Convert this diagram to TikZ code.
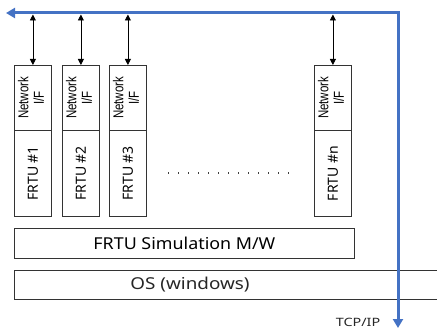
\documentclass[tikz,border=0pt]{standalone}
\usepackage{fontspec}
\setmainfont{Noto Sans}
\newfontfamily\netfont{Liberation Sans}
\usetikzlibrary{arrows.meta}
\definecolor{busblue}{HTML}{4472C4}
\definecolor{boxline}{HTML}{333333}
\newcommand\nettext{\rotatebox{90}{\scalebox{1}[1.25]{\netfont\fontsize{11.5}{13}\selectfont\begin{tabular}{@{}c@{}}Network\\[-0.5pt]I/F\end{tabular}}}}
\newcommand\frtutext[1]{\rotatebox{90}{\fontsize{14}{16}\selectfont FRTU \##1}}
\begin{document}
\begin{tikzpicture}[x=1pt,y=-1pt,
  box/.style={draw=boxline, line width=0.8pt, inner sep=0pt, anchor=north west},
  netbox/.style={box, minimum width=37pt, minimum height=65pt},
  frtubox/.style={box, minimum width=37pt, minimum height=86pt},
  layerbox/.style={box, minimum height=30pt},
  link/.style={{Triangle[length=6pt,width=6pt]}-{Triangle[length=6pt,width=6pt]}, line width=0.8pt},
  bus/.style={{Triangle[length=9pt,width=10pt]}-{Triangle[length=9pt,width=10pt]}, draw=busblue, line width=3pt, line join=miter},
  label/.style={inner sep=0pt, text=black!85}
]
\clip (0,0) rectangle (437,329);
\foreach \x/\n in {14/1,62/2,109/3,314/n}{
  \node[netbox] (net\n) at (\x,65) {\nettext};
  \node[frtubox] (frtu\n) at (\x,130) {\frtutext{\n}};
}
\draw[line width=1.3pt, black!75, dash pattern=on 1.3pt off 8.7pt] (168,173) -- (290,173);
\node[layerbox, minimum width=340pt] (mw) at (14,228) {\scalebox{1.09}[1]{\fontsize{16.4}{18}\selectfont FRTU Simulation M/W}};
\node[layerbox, minimum width=450pt, minimum height=29pt] (os) at (14,270) {};
\node[label] (oslabel) at (190,285) {\scalebox{1.15}[1]{\fontsize{16.4}{18}\selectfont OS (windows)}};
\node[label] (tcp) at (358,322) {\scalebox{1.25}[1]{\fontsize{11.5}{13}\selectfont TCP/IP}};
\coordinate (busL) at (6,13);
\coordinate (busC) at (398,13);
\coordinate (busB) at (398,328);
\draw[bus] (busL) -- (busC) -- (busB);
\foreach \n in {1,2,3,n}{
  \draw[link, shorten <=1.5pt] (net\n.north |- busC) -- (net\n.north);
}
\end{tikzpicture}
\end{document}
